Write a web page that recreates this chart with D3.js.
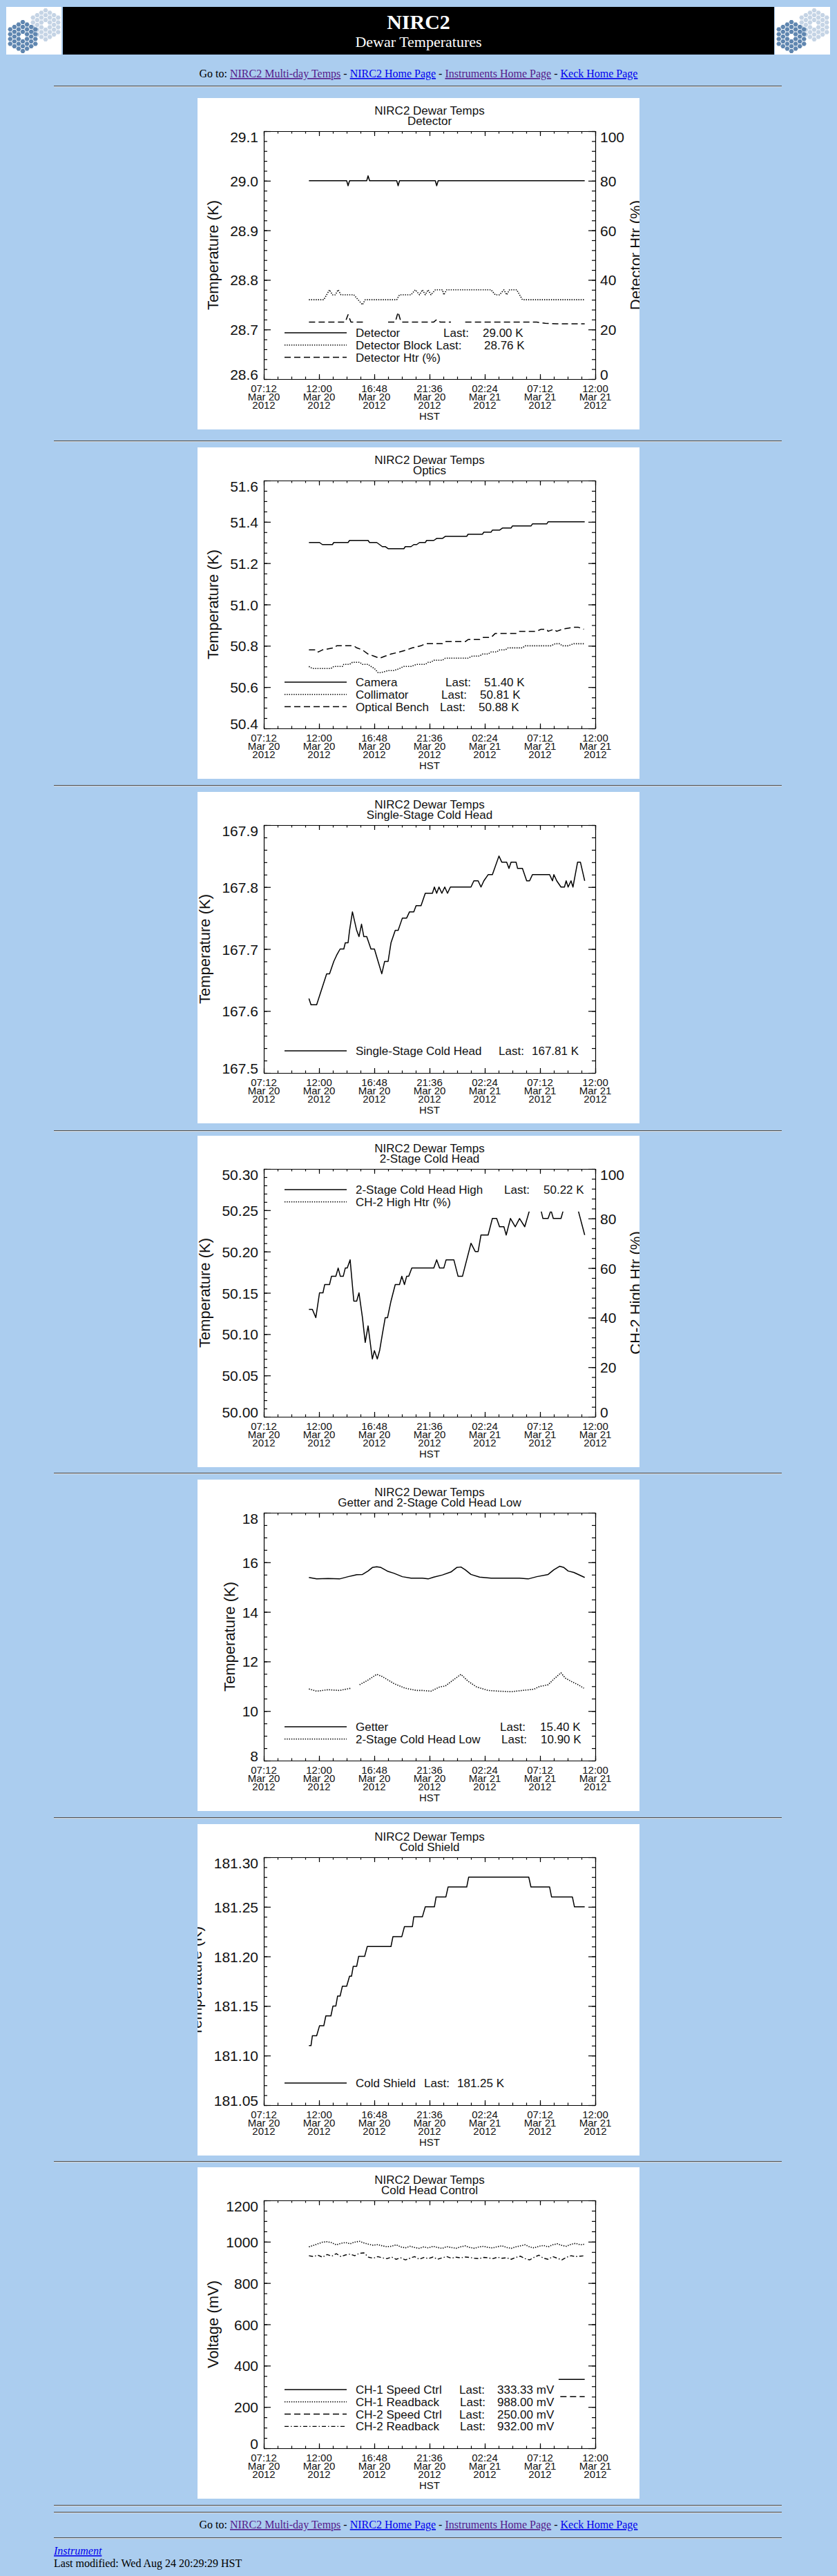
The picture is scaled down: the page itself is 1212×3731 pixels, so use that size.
<!DOCTYPE html>
<html>
<head>
<meta charset="utf-8">
<title>NIRC2 Dewar Temperatures</title>
<script src="https://cdn.jsdelivr.net/npm/d3@7"></script>
<style>
html, body { margin: 0; padding: 0; background: #abcdef; }
svg { display: block; }
</style>
</head>
<body>
<svg id="page" width="1212" height="3731"></svg>
<script>
"use strict";

// DONNÉES : [heures depuis 00:00 HST le 20 mars 2012, valeur] ; null = trou dans la courbe

var detectorTemp = [[11.12,29.00],[14.40,29.00],[14.52,28.99],[14.65,29.00],[16.14,29.00],[16.26,29.01],[16.39,29.00],
	[18.75,29.00],[18.87,28.99],[18.99,29.00],[22.10,29.00],[22.22,28.99],[22.35,29.00],[35.08,29.00]];
var detectorBlock = [[11.12,28.76],[12.41,28.76],[12.66,28.77],[12.91,28.78],[13.16,28.77],[13.41,28.77],[13.66,28.78],
	[13.90,28.77],[15.02,28.77],[15.39,28.76],[15.77,28.75],[16.01,28.76],[18.75,28.76],[18.99,28.77],[19.99,28.77],
	[20.36,28.78],[20.73,28.77],[20.98,28.78],[21.23,28.77],[21.48,28.78],[21.72,28.77],[22.10,28.78],[22.72,28.78],
	[22.84,28.77],[23.09,28.78],[26.94,28.78],[27.31,28.77],[27.68,28.77],[28.06,28.78],[28.30,28.77],[28.55,28.78],
	[29.17,28.78],[29.67,28.76],[35.08,28.76]];
var detectorHtr = [[11.12,23],[14.28,23],[14.52,26],[14.77,23],[15.82,23],[16.9,null],[18.00,23],[18.62,23],[18.87,27],
	[19.12,23],[21.97,23],[22.22,24],[22.52,23],[23.46,23],[24.1,null],[24.70,23],[30.91,23],[31.66,22.5],[32.65,22.3],[35.08,22.3]];

var camera = [[11.12,51.30],[12.04,51.30],[12.29,51.29],[13.16,51.29],[13.28,51.30],[14.52,51.30],[14.65,51.31],
	[16.26,51.31],[16.39,51.30],[17.01,51.30],[17.26,51.29],[17.50,51.28],[17.75,51.28],[18.00,51.27],[19.37,51.27],
	[19.49,51.28],[19.99,51.28],[20.23,51.29],[20.48,51.29],[20.73,51.30],[21.23,51.30],[21.35,51.31],[21.97,51.31],
	[22.22,51.32],[22.72,51.32],[22.97,51.33],[24.83,51.33],[24.95,51.34],[26.19,51.34],[26.32,51.35],[26.94,51.35],
	[27.06,51.36],[27.68,51.36],[27.93,51.37],[28.68,51.37],[28.80,51.38],[30.41,51.38],[30.54,51.39],[31.78,51.39],
	[31.90,51.40],[35.08,51.40]];
var collimator = [[11.12,50.70],[11.42,50.69],[13.03,50.69],[13.28,50.70],[14.03,50.70],[14.15,50.71],[14.65,50.71],
	[14.90,50.72],[15.52,50.72],[15.77,50.71],[16.26,50.71],[16.51,50.70],[16.81,50.69],[17.13,50.67],[17.38,50.67],
	[18.00,50.68],[18.50,50.68],[18.99,50.69],[19.37,50.70],[19.99,50.70],[20.48,50.71],[21.23,50.71],[21.48,50.72],
	[21.72,50.72],[21.97,50.73],[22.72,50.73],[22.97,50.74],[24.95,50.74],[25.32,50.75],[25.95,50.75],[26.19,50.76],
	[26.69,50.76],[26.94,50.77],[27.43,50.77],[27.68,50.78],[28.18,50.78],[28.43,50.79],[29.67,50.79],[29.92,50.80],
	[32.15,50.80],[32.52,50.81],[32.90,50.81],[33.14,50.80],[33.64,50.80],[34.14,50.81],[35.01,50.81]];
var opticalBench = [[11.12,50.78],[11.79,50.78],[11.92,50.77],[12.29,50.78],[13.28,50.79],[13.53,50.80],[15.02,50.80],
	[15.27,50.79],[15.77,50.78],[16.26,50.76],[16.76,50.75],[17.26,50.74],[17.75,50.75],[18.25,50.76],[18.99,50.77],
	[19.61,50.78],[20.11,50.79],[20.86,50.80],[21.23,50.81],[22.72,50.81],[22.97,50.82],[24.70,50.82],[24.95,50.83],
	[25.95,50.83],[26.19,50.84],[26.94,50.84],[27.31,50.86],[29.17,50.86],[29.42,50.87],[30.91,50.87],[31.28,50.88],
	[31.78,50.88],[31.90,50.87],[32.40,50.88],[32.65,50.87],[33.14,50.88],[34.14,50.89],[34.51,50.89],[35.01,50.88]];

var singleStage = [[11.12,167.62],[11.30,167.61],[11.79,167.61],[12.66,167.66],[12.91,167.66],[13.28,167.68],[13.53,167.69],
	[13.83,167.70],[14.15,167.70],[14.28,167.71],[14.52,167.71],[14.65,167.73],[14.90,167.76],[15.27,167.73],[15.47,167.72],
	[15.69,167.74],[15.89,167.72],[16.14,167.72],[16.51,167.70],[16.81,167.70],[17.13,167.68],[17.45,167.66],[17.70,167.68],
	[18.00,167.68],[18.25,167.71],[18.62,167.73],[18.87,167.73],[19.24,167.75],[19.61,167.75],[19.86,167.76],[20.23,167.76],
	[20.43,167.77],[20.86,167.77],[21.23,167.79],[21.85,167.79],[22.02,167.80],[22.22,167.79],[22.42,167.80],[22.67,167.79],
	[22.92,167.80],[23.16,167.79],[23.41,167.80],[25.20,167.80],[25.45,167.81],[25.82,167.81],[26.07,167.80],[26.32,167.81],
	[26.69,167.82],[27.06,167.82],[27.63,167.85],[27.88,167.84],[28.30,167.84],[28.50,167.83],[28.68,167.84],[29.12,167.84],
	[29.25,167.83],[29.67,167.83],[30.04,167.81],[30.29,167.81],[30.54,167.82],[32.03,167.82],[32.28,167.81],[32.40,167.82],
	[32.65,167.81],[33.02,167.80],[33.32,167.80],[33.47,167.81],[33.64,167.80],[33.89,167.81],[34.06,167.80],[34.46,167.84],
	[34.71,167.84],[35.08,167.81]];

var ch2High = [[11.12,50.13],[11.42,50.13],[11.72,50.12],[12.04,50.15],[12.34,50.15],[12.49,50.16],[12.91,50.16],[13.08,50.17],
	[13.46,50.17],[13.66,50.18],[13.85,50.17],[14.10,50.17],[14.28,50.18],[14.45,50.18],[14.70,50.19],[15.02,50.14],
	[15.27,50.14],[15.47,50.15],[15.77,50.12],[16.01,50.09],[16.26,50.11],[16.63,50.07],[16.81,50.08],[17.06,50.07],
	[17.26,50.08],[17.50,50.10],[17.75,50.12],[17.95,50.12],[18.25,50.14],[18.62,50.16],[18.99,50.16],[19.19,50.17],
	[19.42,50.16],[19.61,50.17],[19.79,50.17],[20.06,50.18],[21.97,50.18],[22.22,50.19],[22.47,50.18],[22.84,50.18],
	[23.04,50.19],[23.71,50.19],[24.08,50.17],[24.46,50.17],[25.20,50.21],[25.57,50.20],[25.82,50.20],[26.07,50.22],
	[26.69,50.22],[27.06,50.24],[27.43,50.24],[27.68,50.23],[28.06,50.23],[28.26,50.22],[28.63,50.24],[29.05,50.23],
	[29.42,50.24],[29.87,50.23],[30.29,50.25],[30.66,50.26],[31.03,50.26],[31.28,50.25],[31.45,50.24],[31.90,50.24],
	[32.15,50.25],[32.35,50.24],[33.02,50.24],[33.22,50.25],[33.52,50.26],[34.26,50.26],[34.51,50.25],[35.08,50.22]];
var ch2HighHtr = [[11.12,90],[13.5,91],[15.0,93],[17.0,94],[19.5,91],[22.0,90],[25.0,89],[28.0,88],[31.0,88],[33.5,89],[35.08,89]];

var getter = [[11.12,15.39],[11.79,15.33],[12.79,15.35],[13.78,15.33],[14.52,15.42],[15.27,15.50],[15.77,15.51],[16.26,15.65],
	[16.63,15.79],[17.01,15.82],[17.38,15.79],[18.00,15.63],[18.50,15.56],[19.24,15.42],[19.99,15.36],[20.98,15.36],
	[21.48,15.33],[21.97,15.40],[22.72,15.49],[23.46,15.61],[23.96,15.79],[24.33,15.81],[24.70,15.70],[25.20,15.51],
	[25.95,15.40],[26.94,15.36],[28.43,15.36],[29.42,15.36],[30.17,15.33],[30.91,15.42],[31.90,15.51],[32.40,15.70],
	[32.90,15.84],[33.27,15.79],[33.64,15.65],[34.14,15.59],[35.08,15.39]];
var coldHeadLow = [[11.12,10.89],[11.79,10.80],[12.79,10.86],[13.78,10.83],[14.77,10.92],[15.1,null],[15.52,11.06],
	[16.26,11.25],[17.01,11.48],[17.50,11.39],[18.50,11.11],[19.49,10.92],[20.48,10.83],[20.98,10.83],[21.72,10.80],
	[22.47,10.97],[22.97,11.01],[23.71,11.27],[24.33,11.48],[24.95,11.20],[25.70,10.97],[26.69,10.83],[27.68,10.80],
	[28.68,10.78],[29.67,10.83],[30.66,10.88],[31.16,10.99],[31.90,11.06],[32.40,11.29],[33.02,11.54],[33.39,11.33],
	[33.89,11.20],[34.51,11.06],[35.01,10.92]];

var coldShield = [[11.12,181.11],[11.30,181.11],[11.42,181.12],[11.79,181.12],[12.04,181.13],[12.41,181.13],[12.59,181.14],
	[13.03,181.14],[13.21,181.15],[13.46,181.15],[13.61,181.16],[13.83,181.16],[14.03,181.17],[14.40,181.17],[14.65,181.18],
	[14.82,181.18],[14.97,181.19],[15.27,181.19],[15.44,181.20],[15.96,181.20],[16.19,181.21],[18.25,181.21],[18.42,181.22],
	[19.19,181.22],[19.42,181.23],[20.11,181.23],[20.23,181.24],[20.98,181.24],[21.23,181.25],[22.02,181.25],[22.17,181.26],
	[23.02,181.26],[23.21,181.27],[24.83,181.27],[25.00,181.28],[30.22,181.28],[30.41,181.27],[32.03,181.27],[32.20,181.26],
	[34.01,181.26],[34.19,181.25],[35.08,181.25]];

var ch1SpeedCtrl = [[11.12,333.33],[35.08,333.33]];
var ch1Readback = [[11.12,975],[11.5,982],[11.9,990],[12.3,998],[12.7,1000],[13.1,995],[13.5,985],[13.9,992],[14.3,996],
	[14.7,990],[15.1,998],[15.5,1002],[15.9,994],[16.3,988],[16.7,983],[17.1,986],[17.5,980],[17.9,976],[18.3,978],[18.7,985],
	[19.1,975],[19.5,970],[19.9,978],[20.3,972],[20.7,968],[21.1,975],[21.5,970],[21.9,978],[22.3,972],[22.7,968],[23.1,976],
	[23.5,972],[23.9,968],[24.3,975],[24.7,980],[25.1,972],[25.5,968],[25.9,975],[26.3,978],[26.7,972],[27.1,970],[27.5,976],
	[27.9,980],[28.3,972],[28.7,968],[29.1,975],[29.5,980],[29.9,985],[30.3,975],[30.7,970],[31.1,978],[31.5,982],[31.9,975],
	[32.3,985],[32.7,990],[33.1,982],[33.5,978],[33.9,988],[34.3,992],[34.7,985],[35.08,988]];
var ch2SpeedCtrl = [[11.12,250],[35.08,250]];
var ch2Readback = [[11.12,932],[11.5,928],[11.9,935],[12.3,925],[12.7,938],[13.1,930],[13.5,942],[13.9,928],[14.3,936],
	[14.7,940],[15.1,932],[15.5,944],[15.9,946],[16.3,925],[16.7,920],[17.1,928],[17.5,922],[17.9,918],[18.3,926],[18.7,915],
	[19.1,922],[19.5,912],[19.9,920],[20.3,928],[20.7,915],[21.1,924],[21.5,918],[21.9,926],[22.3,915],[22.7,922],[23.1,928],
	[23.5,920],[23.9,925],[24.3,922],[24.7,926],[25.1,924],[25.5,920],[25.9,918],[26.3,924],[26.7,922],[27.1,918],[27.5,925],
	[27.9,920],[28.3,922],[28.7,915],[29.1,924],[29.5,930],[29.9,918],[30.3,912],[30.7,925],[31.1,935],[31.5,920],[31.9,915],
	[32.3,928],[32.7,920],[33.1,912],[33.5,925],[33.9,932],[34.3,928],[34.7,930],[35.08,932]];

// légendes : [libellé, dernière valeur]
var legendDetector = [["Detector","29.00 K"],["Detector Block","28.76 K"],["Detector Htr (%)",""]];
var legendOptics = [["Camera","51.40 K"],["Collimator","50.81 K"],["Optical Bench","50.88 K"]];
var legendSingle = [["Single-Stage Cold Head","167.81 K"]];
var legendTwoStage = [["2-Stage Cold Head High","50.22 K"],["CH-2 High Htr (%)",""]];
var legendGetter = [["Getter","15.40 K"],["2-Stage Cold Head Low","10.90 K"]];
var legendShield = [["Cold Shield","181.25 K"]];
var legendControl = [["CH-1 Speed Ctrl","333.33 mV"],["CH-1 Readback","988.00 mV"],["CH-2 Speed Ctrl","250.00 mV"],["CH-2 Readback","932.00 mV"]];

// axe des temps : bornes et pas, en heures
var timeDomain = [7.2, 36];
var timeMajor = 4.8, timeMinor = 1.2;

var liens = [["NIRC2 Multi-day Temps", true], ["NIRC2 Home Page", false], ["Instruments Home Page", true], ["Keck Home Page", false]];


// MISE EN PAGE

var SANS = "'Liberation Sans', Arial, Helvetica, sans-serif",
	SERIF = "'Liberation Serif', 'Times New Roman', serif",
	PL = 96, PR = 576, PT = 48, PB = 407, ROW = 17.8,
	STYLES = {
		solid: { w: 1.5, dash: null },
		dot: { w: 1.6, dash: "1.4,1.9" },
		dash: { w: 1.5, dash: "9,5" },
		dashdot: { w: 1.4, dash: "6,3,1.5,3" }
	};

var panneaux = [
	{ top: 142, sub: "Detector", y: [28.6, 29.1], step: 0.1, minor: 5, fmt: ".1f", ytitle: "Temperature (K)",
		y2: [0, 100], step2: 20, minor2: 5, y2title: "Detector Htr (%)",
		series: [[detectorTemp, "solid"], [detectorBlock, "dot"], [detectorHtr, "dash", 2]],
		legend: legendDetector, legY: 340, lastX: [356, 338], valX: [413, 415], padTop: 12, padBot: 10 },
	{ top: 648, sub: "Optics", y: [50.4, 51.6], step: 0.2, minor: 4, fmt: ".1f", ytitle: "Temperature (K)",
		series: [[camera, "solid"], [collimator, "dot"], [opticalBench, "dash"]],
		legend: legendOptics, legY: 340, lastX: [359, 353, 351], valX: [415, 409, 407], padTop: 12, padBot: 10 },
	{ top: 1147, sub: "Single-Stage Cold Head", y: [167.5, 167.9], step: 0.1, minor: 5, fmt: ".1f", ytitle: "Temperature (K)",
		series: [[singleStage, "solid"]],
		legend: legendSingle, legY: 375, lastX: [436], valX: [484], padTop: 12, padBot: 10 },
	{ top: 1645, sub: "2-Stage Cold Head", y: [50.0, 50.3], step: 0.05, minor: 5, fmt: ".2f", ytitle: "Temperature (K)",
		y2: [0, 100], step2: 20, minor2: 5, y2title: "CH-2 High Htr (%)",
		series: [[ch2High, "solid"], [ch2HighHtr, "dot", 2]],
		legend: legendTwoStage, legY: 78, lastX: [444], valX: [501], padTop: 14, padBot: 14 },
	{ top: 2143, sub: "Getter and 2-Stage Cold Head Low", y: [8, 18], step: 2, minor: 4, fmt: "d", ytitle: "Temperature (K)",
		series: [[getter, "solid"], [coldHeadLow, "dot"]],
		legend: legendGetter, legY: 358, lastX: [438, 440], valX: [496, 497], padTop: 12, padBot: 10 },
	{ top: 2642, sub: "Cold Shield", y: [181.05, 181.30], step: 0.05, minor: 5, fmt: ".2f", ytitle: "Temperature (K)",
		series: [[coldShield, "solid"]],
		legend: legendShield, legY: 375, lastX: [328], valX: [376], padTop: 12, padBot: 10 },
	{ top: 3139, sub: "Cold Head Control", y: [0, 1200], step: 200, minor: 4, fmt: "d", ytitle: "Voltage (mV)",
		series: [[ch1SpeedCtrl, "solid"], [ch1Readback, "dot"], [ch2SpeedCtrl, "dash"], [ch2Readback, "dashdot"]],
		legend: legendControl, legY: 322, lastX: [379, 380, 379, 380], valX: [434, 434, 434, 434], padTop: 16, padBot: 10 }
];

var filets = [124, 638, 1137, 1637, 2133, 2632, 3130, 3628, 3638, 3675];

var T0 = new Date(2012, 2, 20);
function heure(h) { return new Date(T0.getTime() + h * 3600e3); }
function graduations(dom, step) {
	var n = Math.round((dom[1] - dom[0]) / step);
	return d3.range(n + 1).map(k => dom[0] + k * step);
}
function trait(sel, style) {
	var s = STYLES[style];
	return sel.attr("fill", "none").attr("stroke", "#000").attr("stroke-width", s.w)
		.attr("stroke-dasharray", s.dash).attr("stroke-linejoin", "round");
}

var svg = d3.select("#page");
svg.append("rect").attr("width", 1212).attr("height", 3731).attr("fill", "#abcdef");


// logo Keck : deux miroirs de 36 segments
function logo(x0, y0) {
	var g = svg.append("g").attr("transform", "translate(" + x0 + "," + y0 + ")"),
		cells = [], R = 4.05,
		hex = d3.line()(d3.range(6).map(k => [3.55 * Math.cos(k * Math.PI / 3), 3.55 * Math.sin(k * Math.PI / 3)])) + "Z";
	g.append("rect").attr("width", 80).attr("height", 69).attr("fill", "#fff");
	for (var q = -3; q <= 3; q++)
		for (var r = -3; r <= 3; r++)
			Math.abs(q + r) <= 3 && !(q === 0 && r === 0) && cells.push([q, r]);
	[[57, 26, "#c5d4e5"], [24, 43, "#5f86b0"]].forEach(m => {
		g.selectAll(null).data(cells).enter().append("path")
			.attr("d", hex)
			.attr("transform", d => "translate(" + (m[0] + 1.5 * R * d[0]) + "," + (m[1] + Math.sqrt(3) * R * (d[1] + d[0] / 2)) + ")")
			.attr("fill", m[2]);
	});
}

function allerA(yb) {
	var t = svg.append("text").attr("x", 606).attr("y", yb).attr("text-anchor", "middle")
		.attr("font-family", SERIF).attr("font-size", 16).style("white-space", "pre");
	t.append("tspan").attr("fill", "#000").text("Go to: ");
	liens.forEach((l, k) => {
		k && t.append("tspan").attr("fill", "#000").text(" - ");
		t.append("a").attr("href", "#").append("tspan")
			.attr("fill", l[1] ? "#551a8b" : "#0000ee").attr("text-decoration", "underline").text(l[0]);
	});
}

// en-tête
logo(9, 10);
svg.append("rect").attr("x", 91).attr("y", 10).attr("width", 1030).attr("height", 69).attr("fill", "#000");
logo(1122, 10);
svg.append("text").attr("x", 606).attr("y", 42).attr("text-anchor", "middle").attr("fill", "#fff")
	.attr("font-family", SERIF).attr("font-weight", "bold").attr("font-size", 30).text("NIRC2");
svg.append("text").attr("x", 606).attr("y", 68).attr("text-anchor", "middle").attr("fill", "#fff")
	.attr("font-family", SERIF).attr("font-size", 22).text("Dewar Temperatures");
allerA(112);

filets.forEach(y => {
	svg.append("rect").attr("x", 78).attr("y", y).attr("width", 1054).attr("height", 1.2).attr("fill", "#4f4f4f");
	svg.append("rect").attr("x", 78).attr("y", y + 1.2).attr("width", 1054).attr("height", 1).attr("fill", "#dcdcdc");
});


// un graphique IDL
function poser(parent, axis, tx, ty, domaine) {
	var a = parent.append("g").attr("transform", "translate(" + tx + "," + ty + ")")
		.call(axis.tickSizeOuter(0).tickFormat(""));
	domaine || a.select(".domain").remove();
	a.selectAll("line,path").attr("stroke", "#000").attr("stroke-width", 1.2);
	return a;
}
function etiqueter(a, n) {
	a.selectAll("text").attr("font-family", SANS).attr("font-size", 21).attr("fill", "#111")
		.attr("dy", (d, k) => k === 0 ? "0em" : (k === n - 1 ? "0.72em" : "0.36em"));
	return d3.max(a.selectAll("text").nodes(), t => t.textContent.length);
}

function panneau(p, i) {
	var g = svg.append("g").attr("transform", "translate(286," + p.top + ")");
	g.append("clipPath").attr("id", "cadre" + i).append("rect").attr("width", 640).attr("height", 480);
	var c = g.append("g").attr("clip-path", "url(#cadre" + i + ")");
	c.append("rect").attr("width", 640).attr("height", 480).attr("fill", "#fff");

	var x = d3.scaleTime().domain(timeDomain.map(heure)).range([PL, PR]),
		y = d3.scaleLinear().domain(p.y).range([PB, PT]),
		y2 = p.y2 ? d3.scaleLinear().domain(p.y2).range([PB, PT]) : null;

	// courbes
	p.series.forEach(s => {
		var ys = s[2] === 2 ? y2 : y;
		trait(c.append("path").datum(s[0]).attr("d", d3.line()
			.defined(d => d[1] !== null)
			.x(d => x(heure(d[0])))
			.y(d => ys(d[1]))), s[1]);
	});

	// légende, sur un fond blanc qui efface les courbes
	var lg = c.append("g").attr("font-family", SANS).attr("font-size", 17).attr("fill", "#111");
	p.legend.forEach((l, k) => {
		var cy = p.legY + k * ROW;
		trait(lg.append("path").attr("d", "M126," + cy + "H216"), p.series[k][1]);
		var t = lg.append("text").attr("x", 229).attr("y", cy + 6).text(l[0]);
		if (l[1]) {
			var fin = 229 + t.node().getComputedTextLength() + 6;
			lg.append("text").attr("x", Math.max(p.lastX[k], fin)).attr("y", cy + 6).text("Last:");
			lg.append("text").attr("x", p.valX[k]).attr("y", cy + 6).text(l[1]);
		}
	});
	var droite = d3.max(lg.selectAll("text").nodes(), t => { var b = t.getBBox(); return b.x + b.width; });
	lg.insert("rect", ":first-child").attr("fill", "#fff")
		.attr("x", 120).attr("y", p.legY - p.padTop)
		.attr("width", droite + 6 - 120)
		.attr("height", (p.legend.length - 1) * ROW + p.padTop + p.padBot);

	// axes des temps, bas et haut
	var xMin = graduations(timeDomain, timeMinor).map(heure),
		xMaj = graduations(timeDomain, timeMajor).map(heure);
	poser(c, d3.axisBottom(x).tickValues(xMin).tickSize(-3.5), 0, PB, true);
	poser(c, d3.axisBottom(x).tickValues(xMaj).tickSize(-7), 0, PB);
	poser(c, d3.axisTop(x).tickValues(xMin).tickSize(-3.5), 0, PT, true);
	poser(c, d3.axisTop(x).tickValues(xMaj).tickSize(-7), 0, PT);

	var fH = d3.timeFormat("%H:%M"), fD = d3.timeFormat("%b %d"), fY = d3.timeFormat("%Y");
	var lab = c.append("g").attr("font-family", SANS).attr("font-size", 15).attr("fill", "#111").attr("text-anchor", "middle");
	xMaj.forEach(t => {
		var tx = lab.append("text");
		[fH, fD, fY].forEach((f, k) => tx.append("tspan").attr("x", x(t)).attr("y", PB + 19 + 12 * k).text(f(t)));
	});
	lab.append("text").attr("x", (PL + PR) / 2).attr("y", 466).text("HST");

	// axe Y gauche ; titre placé selon le nombre de caractères des étiquettes (comme IDL)
	var yMaj = graduations(p.y, p.step), yMin = graduations(p.y, p.step / p.minor);
	poser(c, d3.axisLeft(y).tickValues(yMin).tickSize(-5), PL, 0, true);
	var al = c.append("g").attr("transform", "translate(" + PL + ",0)")
		.call(d3.axisLeft(y).tickValues(yMaj).tickSize(-10).tickSizeOuter(0).tickPadding(8).tickFormat(d3.format(p.fmt)));
	al.select(".domain").remove();
	al.selectAll("line").attr("stroke", "#000").attr("stroke-width", 1.2);
	var nc = etiqueter(al, yMaj.length);
	c.append("text").attr("transform", "translate(" + (PL - 18 - 12 * nc) + "," + (PT + PB) / 2 + ") rotate(-90)")
		.attr("text-anchor", "middle").attr("font-family", SANS).attr("font-size", 22).attr("fill", "#111").text(p.ytitle);

	// axe Y droit : miroir, ou second axe
	if (y2) {
		var y2Maj = graduations(p.y2, p.step2), y2Min = graduations(p.y2, p.step2 / p.minor2);
		poser(c, d3.axisRight(y2).tickValues(y2Min).tickSize(-5), PR, 0, true);
		var ar = c.append("g").attr("transform", "translate(" + PR + ",0)")
			.call(d3.axisRight(y2).tickValues(y2Maj).tickSize(-10).tickSizeOuter(0).tickPadding(7).tickFormat(d3.format("d")));
		ar.select(".domain").remove();
		ar.selectAll("line").attr("stroke", "#000").attr("stroke-width", 1.2);
		var nc2 = etiqueter(ar, y2Maj.length);
		c.append("text").attr("transform", "translate(" + (PR + 30 + 12 * nc2) + "," + (PT + PB) / 2 + ") rotate(-90)")
			.attr("text-anchor", "middle").attr("font-family", SANS).attr("font-size", 22).attr("fill", "#111").text(p.y2title);
	} else {
		poser(c, d3.axisRight(y).tickValues(yMin).tickSize(-5), PR, 0, true);
		poser(c, d3.axisRight(y).tickValues(yMaj).tickSize(-10), PR, 0);
	}

	// titres
	var ti = c.append("g").attr("font-family", SANS).attr("font-size", 17).attr("fill", "#111").attr("text-anchor", "middle");
	ti.append("text").attr("x", (PL + PR) / 2).attr("y", 24).text("NIRC2 Dewar Temps");
	ti.append("text").attr("x", (PL + PR) / 2).attr("y", 39).text(p.sub);
}

panneaux.forEach(panneau);

// pied de page
allerA(3662);
svg.append("a").attr("href", "#").append("text").attr("x", 78).attr("y", 3700)
	.attr("font-family", SERIF).attr("font-size", 16).attr("font-style", "italic")
	.attr("fill", "#0000ee").attr("text-decoration", "underline").text("Instrument");
svg.append("text").attr("x", 78).attr("y", 3718).attr("font-family", SERIF).attr("font-size", 16)
	.attr("fill", "#000").text("Last modified: Wed Aug 24 20:29:29 HST");
</script>
</body>
</html>
